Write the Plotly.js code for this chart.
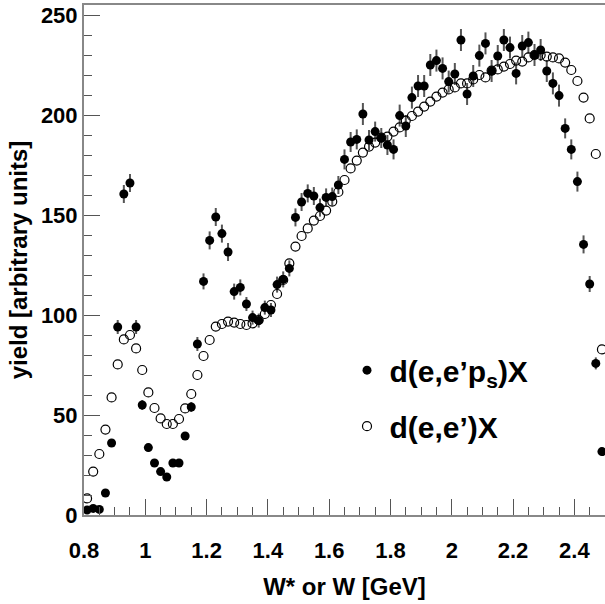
<!DOCTYPE html>
<html>
<head>
<meta charset="utf-8">
<script src="https://cdn.plot.ly/plotly-3.0.1.min.js"></script>
<style>html,body{margin:0;padding:0;background:#fff}#chart{width:605px;height:604px}</style>
</head>
<body>
<div id="chart"></div>
<script>
// Bin centres W* / W [GeV]
const wBins = [0.81,0.83,0.85,0.87,0.89,0.91,0.93,0.95,0.97,0.99,
  1.01,1.03,1.05,1.07,1.09,1.11,1.13,1.15,1.17,1.19,
  1.21,1.23,1.25,1.27,1.29,1.31,1.33,1.35,1.37,1.39,
  1.41,1.43,1.45,1.47,1.49,1.51,1.53,1.55,1.57,1.59,
  1.61,1.63,1.65,1.67,1.69,1.71,1.73,1.75,1.77,1.79,
  1.81,1.83,1.85,1.87,1.89,1.91,1.93,1.95,1.97,1.99,
  2.01,2.03,2.05,2.07,2.09,2.11,2.13,2.15,2.17,2.19,
  2.21,2.23,2.25,2.27,2.29,2.31,2.33,2.35,2.37,2.39,
  2.41,2.43,2.45,2.47,2.49];

// d(e,e'p_s)X yield (filled)
const yieldTagged = [2.5,3.3,2.8,11,36,94,160.5,166,94,55,
  33.7,26,21.7,19,26,26,39.5,54,85.5,116.8,
  137.3,149,140.7,131.5,111.7,113.8,105.5,98.7,97.2,103.7,
  102.5,115.2,117.8,123.3,148.8,156.5,160.8,159.5,153.7,158.8,
  159.2,165,177.8,186.5,187.8,200.5,187.5,191.7,188.5,185,
  182.8,199.7,194.5,208.7,214.5,214.5,225,227.2,223.3,216.7,
  220.5,237.5,210.5,219.5,229.7,235.8,222,229.5,237.5,233.7,
  220.8,234.5,236.2,230,232.5,222,215.8,209.7,193.3,182.8,
  166.7,135.3,115.5,75.8,31.7];

// statistical errors of the tagged yield
const errTagged = [0.5,0.5,0.5,1,2,3.5,4.5,4.5,3.5,2.5,
  2,1.5,1.5,1.5,1.5,1.5,2,2.5,3.5,4,
  4.5,4.5,4.5,4.5,4,4,3.5,3.5,3.5,3.5,
  3.5,4,4,4,4.5,4.5,4.5,4.5,4.5,4.5,
  4.5,4.5,5,5,5,5.5,5,5,5,5,
  5,5.5,5.5,5.5,5.5,5.5,5.5,5.5,5.5,5.5,
  5.5,5.5,5.5,5.5,5.5,5.5,5.5,5.5,5.5,5.5,
  5.5,5.5,5.5,5.5,5.5,5.5,5.5,5.5,5,5,
  5,4.5,4,3,2];

// d(e,e')X yield (open)
const yieldInclusive = [8.3,21.7,30.5,42.7,58.8,75.3,87.8,90,83.3,72.5,
  61.3,53.5,48.3,45.5,45.5,48,53.3,60.5,70,79.5,
  87.5,94.2,95.5,96.7,96.2,95.5,95,95.8,97.5,100.5,
  105,110.5,117.5,125.8,134.2,139.5,143.3,147.2,149.5,152.2,
  156.7,161.5,167.5,173.3,177.2,181.2,184.2,186.2,188.7,189.2,
  191.7,193.8,197.2,199.5,201.7,204.2,206.7,209.2,211.2,212.8,
  213.8,215.8,215.8,217.8,220,218.8,222.2,222.8,224.2,225.5,
  227.2,226.7,228.8,230,230,229.2,228.8,228.3,226.2,222.5,
  217,208.7,198.3,180.5,82.8];

const xTickVals = [0.8,1,1.2,1.4,1.6,1.8,2,2.2,2.4];
const xTickText = ['0.8','1','1.2','1.4','1.6','1.8','2','2.2','2.4'];
const yTickVals = [0,50,100,150,200,250];
const yTickText = ['0','50','100','150','200','250'];

const FONT = 'Liberation Sans, Arial, Helvetica, sans-serif';

const traces = [
  {
    x: wBins, y: yieldTagged, type: 'scatter', mode: 'markers',
    name: "d(e,e\u2019p<sub>s</sub>)X", legendgroup: 'a',
    marker: {symbol: 'circle', size: 9, color: '#000'},
    error_y: {type: 'data', array: errTagged, visible: true, width: 0, thickness: 2, color: '#555'}
  },
  {
    x: wBins, y: yieldInclusive, type: 'scatter', mode: 'markers',
    name: "d(e,e\u2019)X", legendgroup: 'b',
    marker: {symbol: 'circle-open', size: 9, color: '#000', line: {width: 1.2, color: '#000'}}
  }
];

const axisCommon = {
  showline: true, mirror: true, linecolor: '#888', linewidth: 2,
  ticks: 'inside', tickcolor: '#555', tickwidth: 1, ticklen: 16,
  showgrid: false, zeroline: false,
  tickfont: {family: FONT, size: 22, color: '#000', weight: 'bold'}
};

const layout = {
  width: 605, height: 604,
  margin: {l: 84, r: 0, t: 5, b: 89},
  paper_bgcolor: '#fff', plot_bgcolor: '#fff',
  font: {family: FONT, color: '#000'},
  showlegend: true,
  legend: {
    x: 0.50, y: 0.335, xanchor: 'left', yanchor: 'top',
    bgcolor: 'rgba(0,0,0,0)', borderwidth: 0,
    traceorder: 'grouped', tracegroupgap: 14, itemwidth: 35,
    font: {family: FONT, size: 30, color: '#000', weight: 'bold'},
    itemsizing: 'trace'
  },
  xaxis: Object.assign({}, axisCommon, {
    range: [0.8, 2.5], tickmode: 'array', tickvals: xTickVals, ticktext: xTickText,
    ticklabelstandoff: 15,
    minor: {dtick: 0.05, tick0: 0.8, ticks: 'inside', ticklen: 8, tickcolor: '#555', tickwidth: 1, showgrid: false},
    title: {text: 'W* or W [GeV]', standoff: 16, font: {family: FONT, size: 24, color: '#000', weight: 'bold'}}
  }),
  yaxis: Object.assign({}, axisCommon, {
    range: [0, 255], tickmode: 'array', tickvals: yTickVals, ticktext: yTickText,
    ticklabelstandoff: 0,
    minor: {dtick: 10, tick0: 0, ticks: 'inside', ticklen: 8, tickcolor: '#555', tickwidth: 1, showgrid: false},
    title: {text: 'yield [arbitrary units]', standoff: 6, font: {family: FONT, size: 24, color: '#000', weight: 'bold'}}
  })
};

Plotly.newPlot('chart', traces, layout, {displayModeBar: false, staticPlot: true});
</script>
</body>
</html>
